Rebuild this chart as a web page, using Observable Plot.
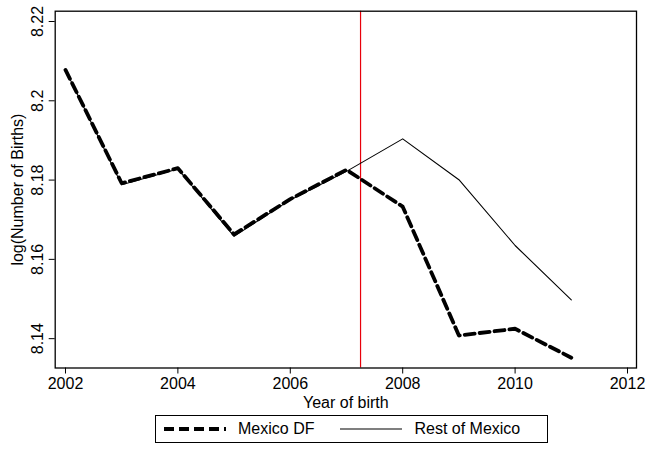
<!DOCTYPE html>
<html><head><meta charset="utf-8">
<script src="https://cdn.jsdelivr.net/npm/d3@7"></script>
<script src="https://cdn.jsdelivr.net/npm/@observablehq/plot@0.6"></script>
<style>
body{margin:0;background:#fff;font-family:"Liberation Sans",Arial,sans-serif;}
#legend{position:absolute;left:155px;top:415px;width:393px;height:28px;border:1px solid #000;box-sizing:border-box;display:flex;align-items:center;font-size:16px;color:#000;}
#legend svg{display:block;}
.item{display:flex;align-items:center;}
</style></head><body>
<div id="chart"></div>
<div id="legend"></div>
<script>
const years = [2002, 2003, 2004, 2005, 2006, 2007, 2008, 2009, 2010, 2011];
const mexicoDF = [8.2078, 8.1792, 8.1830, 8.1663, 8.1752, 8.1826, 8.1733, 8.1408, 8.1425, 8.1352];
const restOfMexico = [8.2078, 8.1788, 8.1828, 8.1658, 8.1750, 8.1822, 8.1904, 8.1801, 8.1635, 8.1498];
const seriesNames = ["Mexico DF", "Rest of Mexico"];
const policyYear = [2007.25];
const xTicks = [2002, 2004, 2006, 2008, 2010, 2012];
const yTicks = [8.14, 8.16, 8.18, 8.2, 8.22];
const xTitle = ["Year of birth"];
const yTitle = ["log(Number of Births)"];

const dfRows = years.map((year, i) => ({year, value: mexicoDF[i]}));
const restRows = years.map((year, i) => ({year, value: restOfMexico[i]}));

const chart = Plot.plot({
  width: 645, height: 410,
  marginLeft: 54.7, marginRight: 9, marginTop: 10.7, marginBottom: 42.5,
  style: {fontFamily: "'Liberation Sans', Arial, sans-serif", fontSize: "16px", background: "white", color: "black"},
  x: {domain: [2001.817, 2012.16]},
  y: {domain: [8.1326, 8.2226]},
  marks: [
    Plot.ruleX(policyYear, {stroke: "#e8000b", strokeWidth: 1.2}),
    Plot.line(restRows, {x: "year", y: "value", stroke: "black", strokeWidth: 1.1}),
    Plot.line(dfRows, {x: "year", y: "value", stroke: "black", strokeWidth: 3.8, strokeDasharray: "10,5"}),
    Plot.frame({stroke: "black", strokeWidth: 1.3}),
    Plot.axisX({ticks: xTicks, tickFormat: d => String(d), tickSize: 6, tickPadding: 4, fontSize: 16, label: null}),
    Plot.axisY({ticks: yTicks, tickFormat: d => String(d), tickSize: 6, tickPadding: 6.5, fontSize: 16,
      tickRotate: -90, textAnchor: "middle", lineAnchor: "bottom", label: null}),
    Plot.text(xTitle, {text: d => d, frameAnchor: "bottom", dy: 40, lineAnchor: "bottom", fontSize: 16, fill: "black"}),
    Plot.text(yTitle, {text: d => d, frameAnchor: "left", rotate: -90, dx: -44, textAnchor: "middle", lineAnchor: "top", fontSize: 16, fill: "black"})
  ]
});
document.getElementById("chart").appendChild(chart);

const legend = document.getElementById("legend");
const styles = [{w: 3.8, dash: "10,5", len: 62}, {w: 1.1, dash: null, len: 62}];
seriesNames.forEach((name, i) => {
  const item = document.createElement("div");
  item.className = "item";
  item.style.marginLeft = i === 0 ? "8px" : "26px";
  const s = styles[i];
  item.innerHTML = `<svg width="${s.len}" height="10"><line x1="0" x2="${s.len}" y1="5" y2="5" stroke="black" stroke-width="${s.w}" ${s.dash ? `stroke-dasharray="${s.dash}"` : ""}/></svg><span style="margin-left:12px">${name}</span>`;
  legend.appendChild(item);
});
</script>
</body></html>
